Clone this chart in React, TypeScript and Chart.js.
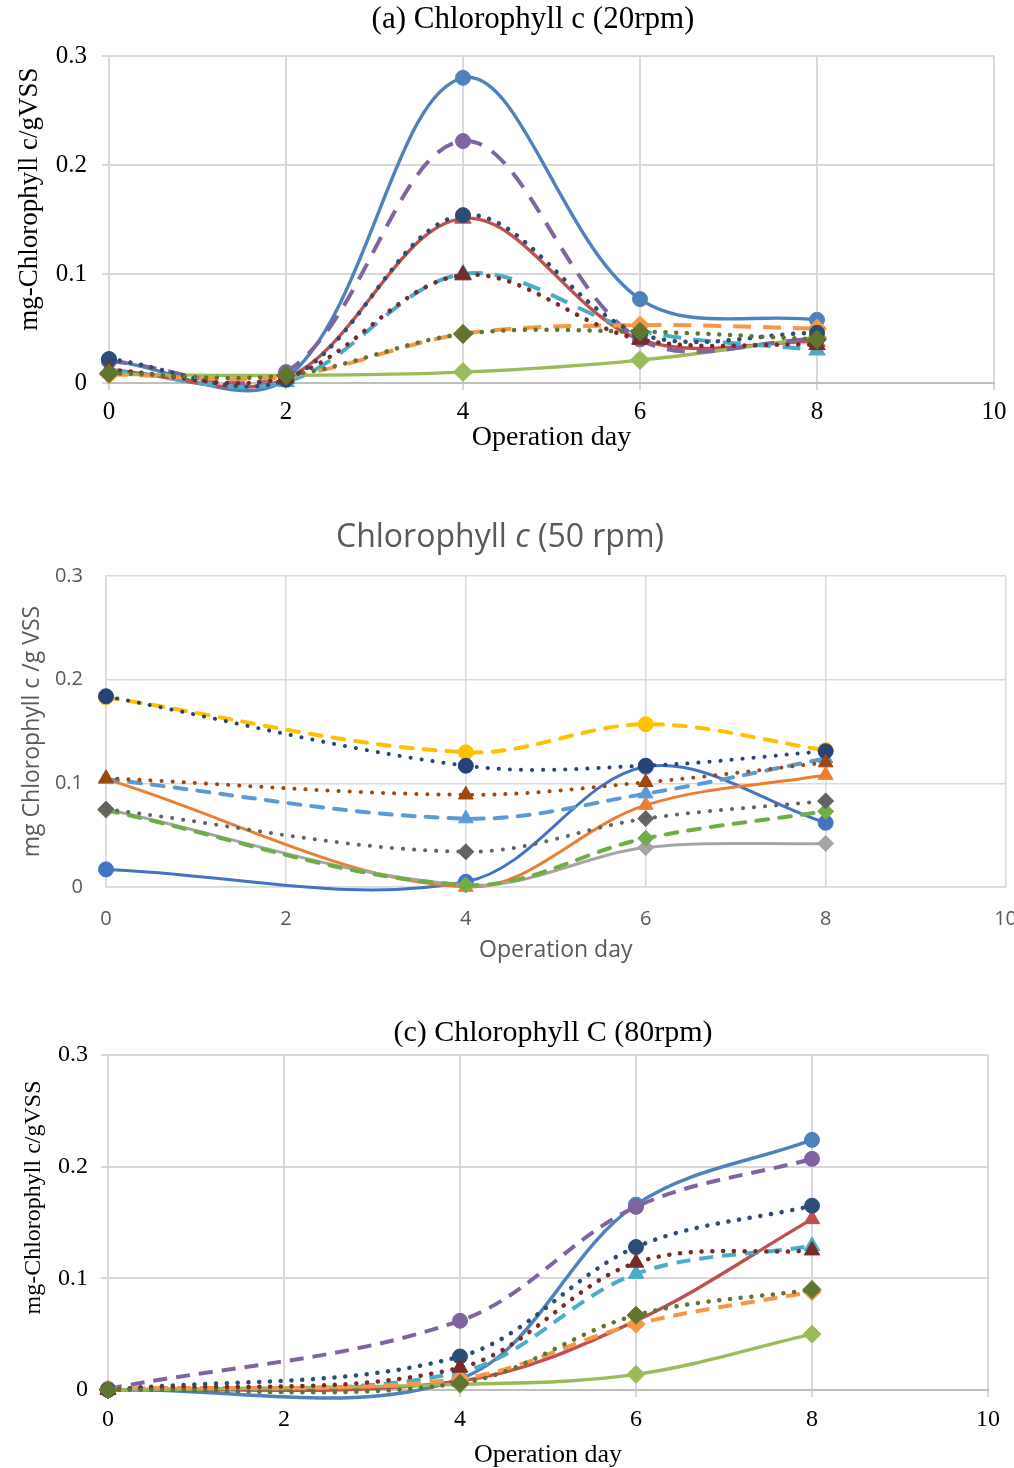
import React, { useEffect, useRef } from "react";
import { Chart, registerables } from "chart.js";
Chart.register(...registerables);

// ---------------- shared ----------------
const yTickLabels = ["0", "0.1", "0.2", "0.3"];
const lineKinds = ["solid", "solid", "solid", "dash", "dash", "dash", "dot", "dot", "dot"];
const markerKinds = ["circle", "triangle", "rectRot", "circle", "triangle", "rectRot", "circle", "triangle", "rectRot"];

// ---------------- (a) 20 rpm ----------------
const daysA = [0, 2, 4, 6, 8];
const a1 = [0.021, 0.004, 0.280, 0.077, 0.058];
const a2 = [0.012, 0.004, 0.151, 0.040, 0.038];
const a3 = [0.008, 0.007, 0.010, 0.021, 0.042];
const a4 = [0.020, 0.010, 0.222, 0.040, 0.040];
const a5 = [0.012, 0.001, 0.100, 0.048, 0.030];
const a6 = [0.008, 0.006, 0.045, 0.053, 0.050];
const a7 = [0.022, 0.003, 0.154, 0.045, 0.046];
const a8 = [0.012, 0.005, 0.099, 0.040, 0.035];
const a9 = [0.009, 0.007, 0.045, 0.047, 0.040];
const seriesA = [a1, a2, a3, a4, a5, a6, a7, a8, a9];
const colorsA = ["#4F81BD", "#C0504D", "#9BBB59", "#8064A2", "#4BACC6", "#F79646", "#2C4D75", "#772C2A", "#5F7530"];

// ---------------- (b) 50 rpm ----------------
const daysB = [0, 4, 6, 8];
const b1 = [0.017, 0.005, 0.116, 0.062];
const b2 = [0.104, 0.000, 0.079, 0.108];
const b3 = [0.075, 0.002, 0.038, 0.042];
const b4 = [0.183, 0.130, 0.157, 0.132];
const b5 = [0.104, 0.066, 0.090, 0.124];
const b6 = [0.074, 0.002, 0.047, 0.073];
const b7 = [0.184, 0.117, 0.117, 0.131];
const b8 = [0.105, 0.089, 0.101, 0.120];
const b9 = [0.075, 0.034, 0.066, 0.083];
const seriesB = [b1, b2, b3, b4, b5, b6, b7, b8, b9];
const colorsB = ["#4472C4", "#ED7D31", "#A5A5A5", "#FFC000", "#5B9BD5", "#70AD47", "#264478", "#9E480E", "#636363"];

// ---------------- (c) 80 rpm ----------------
const daysC = [0, 4, 6, 8];
const c1 = [0.000, 0.010, 0.166, 0.224];
const c2 = [0.000, 0.008, 0.062, 0.153];
const c3 = [0.000, 0.005, 0.014, 0.050];
const c4 = [0.001, 0.062, 0.164, 0.207];
const c5 = [0.000, 0.016, 0.104, 0.129];
const c6 = [0.001, 0.010, 0.059, 0.088];
const c7 = [0.000, 0.030, 0.128, 0.165];
const c8 = [0.000, 0.020, 0.114, 0.125];
const c9 = [0.000, 0.006, 0.067, 0.090];
const seriesC = [c1, c2, c3, c4, c5, c6, c7, c8, c9];
const colorsC = colorsA;

const titleA = [{ t: "(a) Chlorophyll c (20rpm)" }];
const titleB = [{ t: "Chlorophyll " }, { t: "c", italic: true }, { t: " (50 rpm)" }];
const titleC = [{ t: "(c) Chlorophyll C (80rpm)" }];
const yTitleAC = "mg-Chlorophyll c/gVSS";
const yTitleB = "mg Chlorophyll c /g VSS";
const xTitle = "Operation day";

const SERIF = "'Liberation Serif', 'Times New Roman', serif";
const SANS = "'Open Sans', 'Noto Sans', sans-serif";

type Part = { t: string; italic?: boolean };
type TextItem = { parts: Part[]; x: number; y: number; size: number; family: string; color: string; rotate?: boolean };

function textPlugin(items: TextItem[]) {
  return {
    id: "customText",
    afterDraw(chart: any) {
      const ctx = chart.ctx as CanvasRenderingContext2D;
      items.forEach((it) => {
        ctx.save();
        ctx.fillStyle = it.color;
        ctx.textBaseline = "middle";
        ctx.textAlign = "left";
        const fontOf = (p: Part) => `${p.italic ? "italic " : ""}${it.size}px ${it.family}`;
        const widths = it.parts.map((p) => {
          ctx.font = fontOf(p);
          return ctx.measureText(p.t).width;
        });
        const total = widths.reduce((s, w) => s + w, 0);
        ctx.translate(it.x, it.y);
        if (it.rotate) ctx.rotate(-Math.PI / 2);
        let cx = -total / 2;
        it.parts.forEach((p, i) => {
          ctx.font = fontOf(p);
          ctx.fillText(p.t, cx, 0);
          cx += widths[i];
        });
        ctx.restore();
      });
    },
  };
}

type Spec = {
  days: number[];
  series: number[][];
  colors: string[];
  lw: { solid: number; dash: number; dot: number };
  dash: number[];
  dashCap: "butt" | "round";
  dot: number[];
  radius: { circle: number; triangle: number; rectRot: number };
  padTop: number;
  padRight: number;
  yWidth: number;
  xHeight: number;
  gridColor: string;
  gridWidth: number;
  axisColor: string;
  axisWidth: number;
  drawTicks: boolean;
  tickColor: string;
  tickFont: { family: string; size: number };
  xTickPad: number;
  yTickPad: number;
  xTitleFont: { family: string; size: number };
  xTitlePadBottom: number;
  texts: TextItem[];
};

function buildConfig(s: Spec): any {
  const datasets = s.series.map((vals, i) => {
    const kind = lineKinds[i];
    const mk = markerKinds[i] as "circle" | "triangle" | "rectRot";
    return {
      label: "S" + (i + 1),
      data: s.days.map((d, j) => ({ x: d, y: vals[j] })),
      borderColor: s.colors[i],
      backgroundColor: s.colors[i],
      borderWidth: kind === "solid" ? s.lw.solid : kind === "dash" ? s.lw.dash : s.lw.dot,
      borderDash: kind === "solid" ? [] : kind === "dash" ? s.dash : s.dot,
      borderCapStyle: kind === "dot" ? "round" : kind === "dash" ? s.dashCap : "butt",
      tension: 0.35,
      pointStyle: mk,
      pointRadius: s.radius[mk],
      pointBorderWidth: 1,
      pointBackgroundColor: s.colors[i],
      pointBorderColor: s.colors[i],
      clip: false,
      order: 20 - i,
    };
  });
  return {
    type: "line",
    data: { datasets },
    options: {
      animation: false,
      responsive: false,
      maintainAspectRatio: false,
      devicePixelRatio: 1,
      events: [],
      layout: { padding: { top: s.padTop, right: s.padRight, left: 0, bottom: 0 } },
      elements: { line: { capBezierPoints: false } },
      plugins: { legend: { display: false }, tooltip: { enabled: false }, title: { display: false } },
      scales: {
        x: {
          type: "linear",
          min: 0,
          max: 10,
          afterFit: (sc: any) => {
            sc.height = s.xHeight;
          },
          ticks: {
            stepSize: 2,
            color: s.tickColor,
            padding: s.xTickPad,
            font: { family: s.tickFont.family, size: s.tickFont.size, lineHeight: 1.2 },
            maxRotation: 0,
            callback: (v: number) => String(v),
          },
          grid: {
            color: s.gridColor,
            lineWidth: s.gridWidth,
            drawTicks: s.drawTicks,
            tickLength: 7,
            tickColor: s.gridColor,
          },
          border: { color: s.axisColor, width: s.axisWidth },
          title: {
            display: true,
            text: xTitle,
            color: s.tickColor,
            font: { family: s.xTitleFont.family, size: s.xTitleFont.size, lineHeight: 1 },
            padding: { top: 0, bottom: s.xTitlePadBottom },
          },
        },
        y: {
          type: "linear",
          min: 0,
          max: 0.3,
          afterFit: (sc: any) => {
            sc.width = s.yWidth;
          },
          ticks: {
            stepSize: 0.1,
            color: s.tickColor,
            padding: s.yTickPad,
            font: { family: s.tickFont.family, size: s.tickFont.size, lineHeight: 1.2 },
            callback: (v: number) => yTickLabels[Math.round(v * 10)] ?? "",
          },
          grid: {
            color: s.gridColor,
            lineWidth: s.gridWidth,
            drawTicks: s.drawTicks,
            tickLength: 7,
            tickColor: s.gridColor,
          },
          border: { color: s.gridColor, width: s.gridWidth },
        },
      },
    },
    plugins: [textPlugin(s.texts)],
  };
}

const specA: Spec = {
  days: daysA,
  series: seriesA,
  colors: colorsA,
  lw: { solid: 3.4, dash: 4, dot: 4.5 },
  dash: [18, 12],
  dashCap: "butt",
  dot: [0.1, 10.7],
  radius: { circle: 7.5, triangle: 9.5, rectRot: 9.5 },
  padTop: 56,
  padRight: 20,
  yWidth: 109,
  xHeight: 77,
  gridColor: "#D9D9D9",
  gridWidth: 2,
  axisColor: "#BFBFBF",
  axisWidth: 2,
  drawTicks: true,
  tickColor: "#000000",
  tickFont: { family: SERIF, size: 25 },
  xTickPad: 7,
  yTickPad: 15,
  xTitleFont: { family: SERIF, size: 28 },
  xTitlePadBottom: 8,
  texts: [
    { parts: titleA, x: 533, y: 20, size: 31, family: SERIF, color: "#000000" },
    { parts: [{ t: yTitleAC }], x: 30, y: 199, size: 27, family: SERIF, color: "#000000", rotate: true },
  ],
};

const specB: Spec = {
  days: daysB,
  series: seriesB,
  colors: colorsB,
  lw: { solid: 3, dash: 4, dot: 4 },
  dash: [12, 11],
  dashCap: "round",
  dot: [0.1, 11],
  radius: { circle: 7.5, triangle: 8.5, rectRot: 8 },
  padTop: 86,
  padRight: 25,
  yWidth: 106,
  xHeight: 78,
  gridColor: "#D9D9D9",
  gridWidth: 1.5,
  axisColor: "#D9D9D9",
  axisWidth: 1.5,
  drawTicks: false,
  tickColor: "#595959",
  tickFont: { family: SANS, size: 20 },
  xTickPad: 20,
  yTickPad: 23,
  xTitleFont: { family: SANS, size: 23 },
  xTitlePadBottom: 3,
  texts: [
    { parts: titleB, x: 500, y: 48, size: 32, family: SANS, color: "#595959" },
    { parts: [{ t: yTitleB }], x: 32, y: 241.5, size: 23, family: SANS, color: "#595959", rotate: true },
  ],
};

const specC: Spec = {
  days: daysC,
  series: seriesC,
  colors: colorsC,
  lw: { solid: 3.4, dash: 4, dot: 4.5 },
  dash: [14, 9],
  dashCap: "butt",
  dot: [0.1, 10.7],
  radius: { circle: 7.5, triangle: 9, rectRot: 9 },
  padTop: 45,
  padRight: 26,
  yWidth: 108,
  xHeight: 78,
  gridColor: "#D9D9D9",
  gridWidth: 2,
  axisColor: "#BFBFBF",
  axisWidth: 2,
  drawTicks: true,
  tickColor: "#000000",
  tickFont: { family: SERIF, size: 24 },
  xTickPad: 8,
  yTickPad: 13,
  xTitleFont: { family: SERIF, size: 26 },
  xTitlePadBottom: 0,
  texts: [
    { parts: titleC, x: 553, y: 23, size: 30, family: SERIF, color: "#000000" },
    { parts: [{ t: yTitleAC }], x: 34, y: 187.5, size: 24, family: SERIF, color: "#000000", rotate: true },
  ],
};

function Panel({ spec, top, width, height }: { spec: Spec; top: number; width: number; height: number }) {
  const ref = useRef<HTMLCanvasElement>(null);
  useEffect(() => {
    const chart = new Chart(ref.current as HTMLCanvasElement, buildConfig(spec));
    return () => chart.destroy();
  }, [spec]);
  return (
    <div style={{ position: "absolute", left: 0, top, width: 1014, height, overflow: "hidden", background: "#fff" }}>
      <canvas ref={ref} width={width} height={height} style={{ display: "block", width, height }} />
    </div>
  );
}

export default function App() {
  return (
    <div style={{ position: "absolute", left: 0, top: 0, width: 1014, height: 1468, background: "#fff", overflow: "hidden" }}>
      <Panel spec={specA} top={0} width={1014} height={460} />
      <Panel spec={specB} top={490} width={1037} height={475} />
      <Panel spec={specC} top={1010} width={1014} height={458} />
    </div>
  );
}
